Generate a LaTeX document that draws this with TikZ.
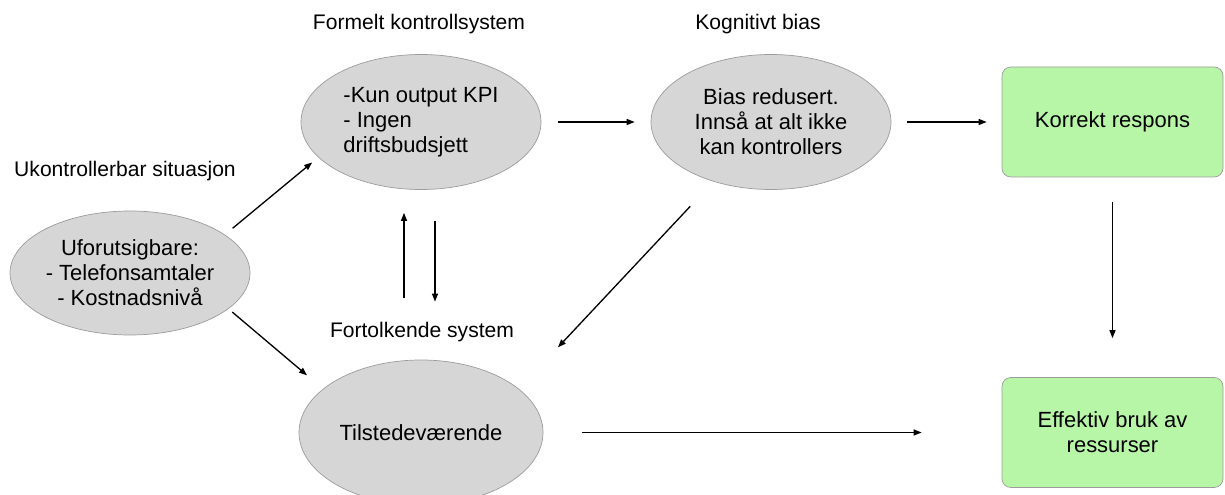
\documentclass[tikz,border=0pt]{standalone}
\usepackage{fontspec}
\setmainfont{Liberation Sans}
\usepackage{tikz}
\usetikzlibrary{arrows.meta,shapes.geometric}
\definecolor{ovalgray}{HTML}{D6D6D6}
\definecolor{rimgray}{HTML}{9C9C9C}
\definecolor{okgreen}{HTML}{B7F5A7}

\begin{document}
\begin{tikzpicture}[>={Triangle[length=1.6mm,width=1.2mm]},
  ov/.style={ellipse,draw=rimgray,fill=ovalgray,line width=0.4pt,inner sep=0pt,minimum width=4.8cm,minimum height=2.7cm,font=\fontsize{12.5}{14.2}\selectfont,align=center},
  res/.style={draw=rimgray,fill=okgreen,line width=0.4pt,rounded corners=5pt,minimum width=4.42cm,minimum height=2.2cm,font=\fontsize{12.5}{14.2}\selectfont,align=center},
  lbl/.style={font=\fontsize{12}{14}\selectfont},
  ar/.style={->,line width=0.75pt}]
  \useasboundingbox (0,0) rectangle (24.5,9.9);
  % headings
  \node[lbl] (hu) at (2.5,6.48) {Ukontrollerbar situasjon};
  \node[lbl] (hf) at (8.38,9.42) {Formelt kontrollsystem};
  \node[lbl] (hk) at (15.16,9.42) {Kognitivt bias};
  \node[lbl] (ht) at (8.44,3.26) {Fortolkende system};
  % ovals and result boxes
  \node[ov,minimum height=2.48cm] (uf) at (2.6,4.44) {Uforutsigbare:\\- Telefonsamtaler\\- Kostnadsnivå};
  \node[ov,align=left] (fo) at (8.42,7.46) {-Kun output KPI\\- Ingen\\driftsbudsjett};
  \node[ov] (bi) at (15.42,7.46) {Bias redusert.\\Innså at alt ikke\\kan kontrollers};
  \node[ov,minimum width=4.88cm,minimum height=2.9cm] (ti) at (8.42,1.25) {Tilstedeværende};
  \node[res] (ko) at (22.25,7.46) {Korrekt respons};
  \node[res] (ef) at (22.25,1.25) {Effektiv bruk av\\ressurser};
  % connectors
  \draw[ar,shorten <=0.2cm,shorten >=0.16cm] (uf.22) -- (fo.199);
  \draw[ar,shorten <=0.1cm,shorten >=0.42cm] (uf.340) -- (ti.156);
  \draw[ar,shorten <=0.34cm,shorten >=0.32cm] (fo.east) -- (bi.west);
  \draw[ar,shorten <=0.32cm,shorten >=0.3cm] (bi.east) -- (ko.west);
  \draw[ar,shorten <=0.68cm,shorten >=1.14cm] (bi.226) -- (ti.24);
  \draw[ar,shorten <=1.24cm,shorten >=0.46cm] ([xshift=-0.34cm]ti.north) -- ([xshift=-0.34cm]fo.south);
  \draw[ar,shorten <=0.62cm,shorten >=1.16cm] ([xshift=0.28cm]fo.south) -- ([xshift=0.28cm]ti.north);
  \draw[ar,shorten <=0.5cm,shorten >=0.78cm] (ko.south) -- (ef.north);
  \draw[ar,shorten <=0.78cm,shorten >=1.6cm] (ti.east) -- (ef.west);
\end{tikzpicture}
\end{document}
